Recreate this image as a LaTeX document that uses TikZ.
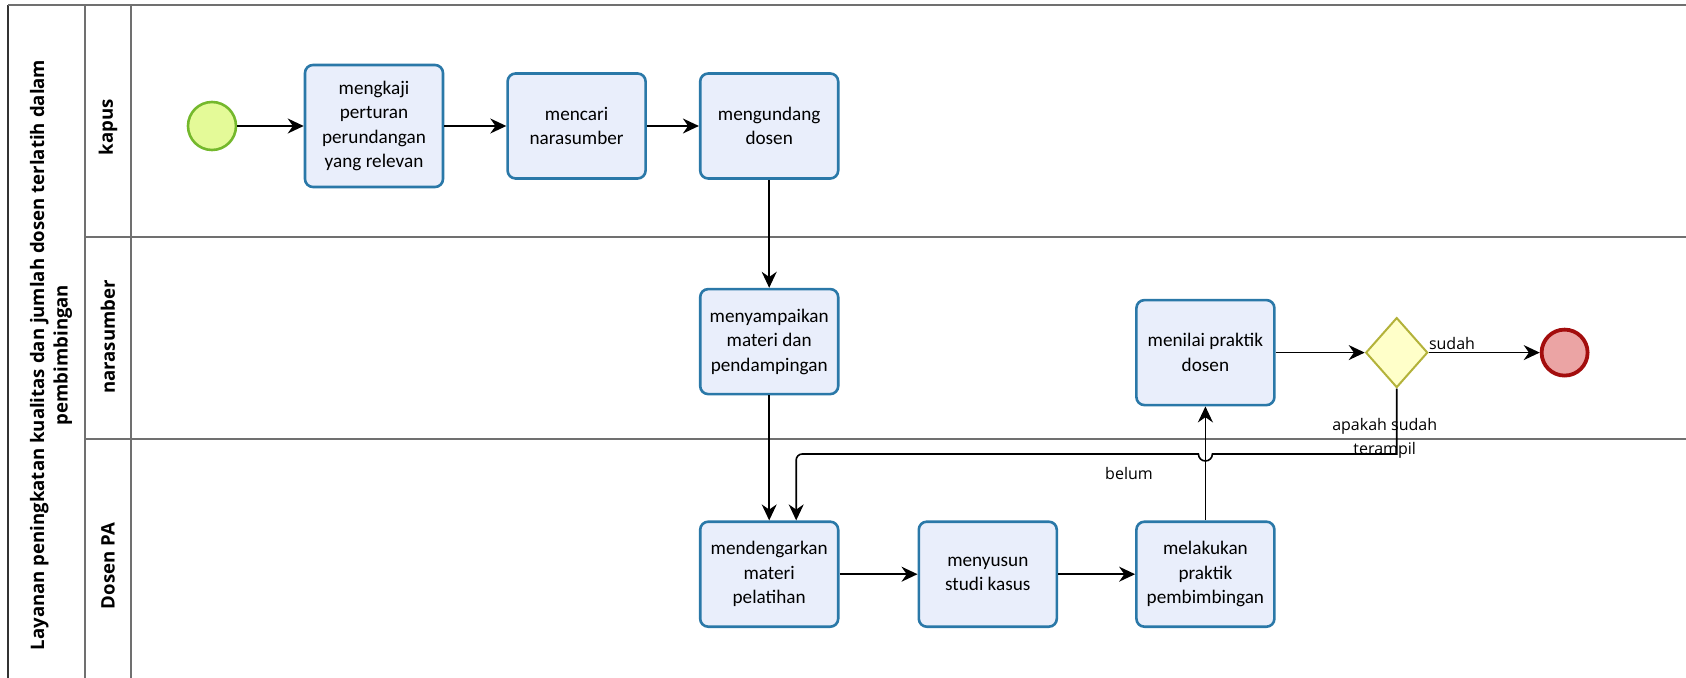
\documentclass[tikz,border=0pt]{standalone}
\usepackage{fontspec}
\setmainfont{Carlito}
\newfontfamily\lblfont{Open Sans}
\usepackage{tikz}
\usetikzlibrary{arrows.meta,positioning,shapes.geometric,calc}
\definecolor{taskblue}{HTML}{2A78A8}
\definecolor{taskfill}{HTML}{E9EEFB}
\definecolor{startgreen}{HTML}{74B82C}
\definecolor{startfill}{HTML}{E4FA98}
\definecolor{endred}{HTML}{A30D0D}
\definecolor{endfill}{HTML}{EBA4A4}
\definecolor{gateolive}{HTML}{B3B23A}
\definecolor{gatefill}{HTML}{FFFFC9}
\definecolor{lanegray}{HTML}{707070}

\begin{document}
\begin{tikzpicture}[
  x=0.5pt, y=-0.5pt,
  task/.style={draw=taskblue, fill=taskfill, rectangle, rounded corners=4pt,
               line width=1.3pt, minimum width=69pt, minimum height=52.5pt,
               align=center, inner sep=2pt,
               font=\fontsize{9.6}{12.2}\selectfont},
  startev/.style={draw=startgreen, fill=startfill, circle, line width=1.3pt,
                  minimum size=24pt, inner sep=0pt},
  endev/.style={draw=endred, fill=endfill, circle, line width=1.9pt,
                minimum size=23pt, inner sep=0pt},
  gate/.style={draw=gateolive, fill=gatefill, diamond, line width=1pt,
               minimum width=31pt, minimum height=35pt, inner sep=0pt},
  lanelbl/.style={rotate=90, font=\lblfont\bfseries\fontsize{9.3}{11.8}\selectfont,
                  align=center},
  lbl/.style={font=\lblfont\fontsize{8}{12.2}\selectfont, inner sep=1pt},
  lane/.style={draw=lanegray, line width=1pt},
  arr/.style={-{Stealth[length=8pt,width=7.5pt]}, line width=0.8pt},
]
  \useasboundingbox (0,0) rectangle (1686,678);

  %% Pool and lanes
  \draw[line width=1.3pt, draw=black!80] (8,5) -- (8,690);
  \draw[lane] (8,5) -- (1690,5);
  \draw[lane] (85,5) -- (85,690);
  \draw[lane] (131,5) -- (131,690);
  \draw[lane] (85,237) -- (1690,237);
  \draw[lane] (85,439) -- (1690,439);

  \node[lanelbl] (pooltitle) at (51,355)
    {Layanan peningkatan kualitas dan jumlah dosen terlatih dalam\\pembimbingan};
  \node[lanelbl] (kapus) at (108,127) {kapus};
  \node[lanelbl] (narasumber) at (108,337) {narasumber};
  \node[lanelbl] (dosenpa) at (108,566) {Dosen PA};

  %% Lane kapus
  \node[startev] (start) at (212,126) {};
  \node[task, minimum height=61pt] (kaji) at (374,126)
    {mengkaji\\perturan\\perundangan\\yang relevan};
  \node[task, right=31pt of kaji] (cari) {mencari\\narasumber};
  \node[task, right=26pt of cari] (undang) {mengundang\\dosen};

  %% Lane narasumber
  \node[task, below=54pt of undang] (sampaikan)
    {menyampaikan\\materi dan\\pendampingan};

  %% Lane Dosen PA
  \node[task, below=62.5pt of sampaikan] (dengar)
    {mendengarkan\\materi\\pelatihan};
  \node[task, right=39pt of dengar] (susun) {menyusun\\studi kasus};
  \node[task, right=38.5pt of susun] (praktik)
    {melakukan\\praktik\\pembimbingan};

  %% Back in lane narasumber
  \node[task, above=57pt of praktik] (nilai) {menilai praktik\\dosen};
  \node[gate, right=44.5pt of nilai] (cek) {};
  \node[endev, right=55.5pt of cek] (finish) {};
  \node[lbl, align=center, below=13.5pt of cek, xshift=-6pt] (cektxt)
    {apakah sudah\\terampil};
  \node[lbl] (belum) at (1129,474) {belum};

  %% Flows
  \draw[arr] (start) -- (kaji);
  \draw[arr] (kaji) -- (cari);
  \draw[arr] (cari) -- (undang);
  \draw[arr] (undang) -- (sampaikan);
  \draw[arr] (sampaikan) -- (dengar);
  \draw[arr] (dengar) -- (susun);
  \draw[arr] (susun) -- (praktik);
  \draw[arr] (praktik) -- (nilai);
  \draw[arr] (nilai) -- (cek);
  \draw[arr] (cek) -- (finish) node[lbl, pos=0.21, above] {sudah};

  %% Loop back with a hop over the vertical flow
  \draw[arr] (cek.south) -- (cek.south |- 0,454)
    -- ($(nilai.south |- 0,454)+(7,0)$)
    arc[start angle=0, end angle=-180, radius=3.5pt]
    [rounded corners=3pt] -- ($(dengar.north |- 0,454)+(27,0)$)
    -- ([xshift=13.5pt]dengar.north);
\end{tikzpicture}
\end{document}
